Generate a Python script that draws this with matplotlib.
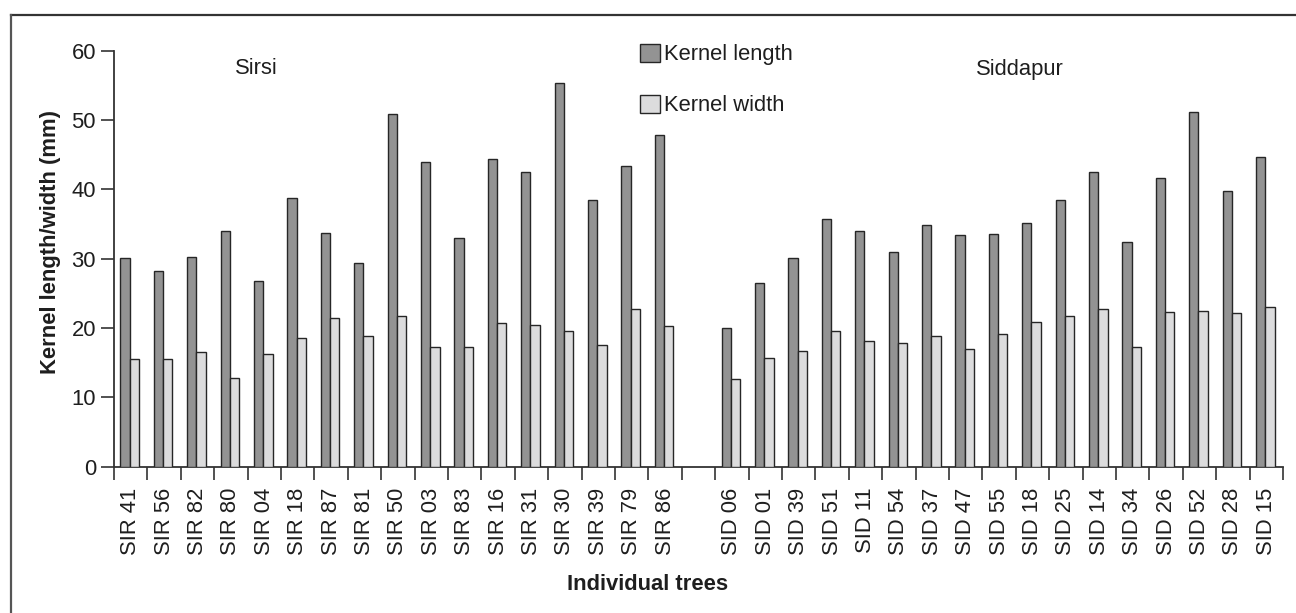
import matplotlib
matplotlib.use("Agg")
import matplotlib.pyplot as plt
from matplotlib.lines import Line2D
import numpy as np

plt.rcParams['font.family'] = ['Liberation Sans', 'DejaVu Sans']

sirsi_trees = ["SIR 41", "SIR 56", "SIR 82", "SIR 80", "SIR 04", "SIR 18", "SIR 87", "SIR 81",
               "SIR 50", "SIR 03", "SIR 83", "SIR 16", "SIR 31", "SIR 30", "SIR 39", "SIR 79", "SIR 86"]
sirsi_length = [30.1, 28.2, 30.3, 34.0, 26.8, 38.8, 33.7, 29.4, 50.9, 44.0, 33.0, 44.4, 42.5, 55.4, 38.4, 43.3, 47.8]
sirsi_width = [15.5, 15.6, 16.6, 12.8, 16.3, 18.6, 21.4, 18.8, 21.7, 17.2, 17.3, 20.7, 20.5, 19.6, 17.5, 22.7, 20.3]

sidd_trees = ["SID 06", "SID 01", "SID 39", "SID 51", "SID 11", "SID 54", "SID 37", "SID 47",
              "SID 55", "SID 18", "SID 25", "SID 14", "SID 34", "SID 26", "SID 52", "SID 28", "SID 15"]
sidd_length = [20.0, 26.5, 30.1, 35.7, 34.0, 31.0, 34.8, 33.4, 33.6, 35.1, 38.4, 42.5, 32.4, 41.6, 51.1, 39.8, 44.7]
sidd_width = [12.6, 15.7, 16.7, 19.6, 18.2, 17.8, 18.9, 17.0, 19.1, 20.9, 21.8, 22.7, 17.2, 22.3, 22.4, 22.2, 23.0]

series_names = ["Kernel length", "Kernel width"]
group_names = ["Sirsi", "Siddapur"]
y_ticks = [0, 10, 20, 30, 40, 50, 60]

W, H = 1296, 613
fig = plt.figure(figsize=(W / 100, H / 100), dpi=100)
ax = fig.add_axes([114 / W, (H - 466.7) / H, (1283 - 114) / W, (466.7 - 50.7) / H])

trees = sirsi_trees + [""] + sidd_trees
lengths = sirsi_length + [np.nan] + sidd_length
widths = sirsi_width + [np.nan] + sidd_width
n = len(trees)
centers = np.arange(n) + 0.5
bw = 0.28

dark = "#939393"
light = "#dcdcdd"
edge = "#262626"
txt = "#1e1e1e"
fs = 15.8

ax.bar(centers - bw / 2 - 0.03, lengths, width=bw, color=dark, edgecolor=edge, linewidth=1.0,
       label=series_names[0], zorder=3)
ax.bar(centers + bw / 2 - 0.03, widths, width=bw, color=light, edgecolor=edge, linewidth=1.0,
       label=series_names[1], zorder=3)

ax.set_xlim(0, n)
ax.set_ylim(0, 60)
ax.spines['top'].set_visible(False)
ax.spines['right'].set_visible(False)
for s in ['left', 'bottom']:
    ax.spines[s].set_color("#333333")
    ax.spines[s].set_linewidth(1.3)

ax.set_yticks(y_ticks)
ax.set_yticklabels([str(v) for v in y_ticks], fontsize=fs, color=txt)
ax.tick_params(axis='y', direction='out', length=9.5, width=1.2, pad=3.5, color="#333333")

ax.set_xticks(np.arange(n + 1))
ax.set_xticklabels([])
ax.tick_params(axis='x', which='major', direction='out', length=9.5, width=1.2, color="#333333")
label_pos = [c for c, t in zip(centers, trees) if t]
label_txt = [t for t in trees if t]
ax.set_xticks(label_pos, minor=True)
ax.set_xticklabels(label_txt, minor=True, rotation=90, fontsize=fs, color=txt)
ax.tick_params(axis='x', which='minor', length=0, pad=15)

fig.text(256 / W, 1 - 69 / H, group_names[0], fontsize=fs, color=txt, ha='center', va='center')
fig.text(1019.5 / W, 1 - 69 / H, group_names[1], fontsize=fs, color=txt, ha='center', va='center')

fig.text(51 / W, 1 - 241.5 / H, "Kernel length/width (mm)", rotation=90, fontsize=fs,
         fontweight='bold', color=txt, ha='center', va='center')
fig.text(648 / W, 1 - 585 / H, "Individual trees", fontsize=fs, fontweight='bold', color=txt,
         ha='center', va='center')

leg = ax.legend(loc='upper left', bbox_to_anchor=(640 / W, 1 - 43.5 / H), bbox_transform=fig.transFigure,
                frameon=False, fontsize=fs, handlelength=0.9, handleheight=0.9, handletextpad=0.2,
                labelspacing=1.35, borderpad=0, borderaxespad=0)
for t in leg.get_texts():
    t.set_color(txt)

# outer frame (top and left edges visible)
fig.add_artist(Line2D([11 / W, 1.0], [1 - 14.5 / H, 1 - 14.5 / H], transform=fig.transFigure,
                      color="#333333", linewidth=1.6))
fig.add_artist(Line2D([11 / W, 11 / W], [0, 1 - 14.5 / H], transform=fig.transFigure,
                      color="#555555", linewidth=1.6))

fig.savefig("out.png", dpi=100)
